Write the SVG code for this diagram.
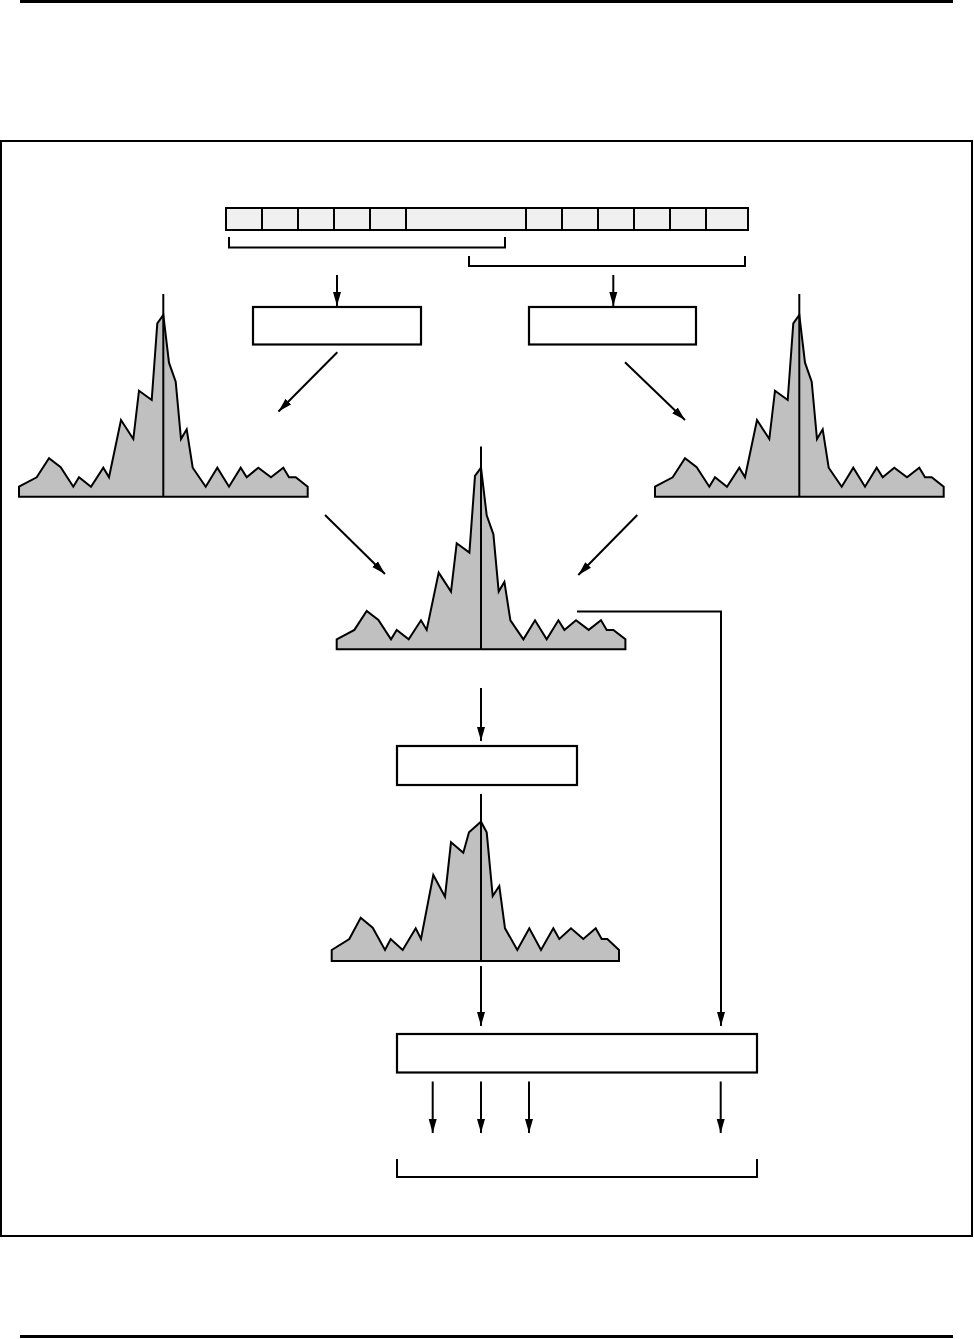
<svg xmlns="http://www.w3.org/2000/svg" xmlns:xlink="http://www.w3.org/1999/xlink" width="974" height="1339" viewBox="0 0 974 1339">
<style>
.ln{fill:none;stroke:#000;stroke-width:2}
.bx{fill:#fff;stroke:#000;stroke-width:2.2}
.cell{fill:#f0f0f0;stroke:#000;stroke-width:2}
.hist{fill:#c0c0c0;stroke:#000;stroke-width:2;stroke-linejoin:miter}
.arr{fill:none;stroke:#000;stroke-width:2;marker-end:url(#ah)}
</style>
<defs>
<marker id="ah" markerUnits="userSpaceOnUse" markerWidth="16" markerHeight="10" refX="14" refY="5" orient="auto">
<path d="M0,1 L14,5 L0,9 z" fill="#000"/>
</marker>
<g id="histA">
<polygon class="hist" points="-144.3,-10 -126.6,-19.4 -114.3,-38.4 -102.6,-29.4 -90,-10 -84.3,-19.4 -72.3,-10 -60,-29 -54.3,-19.4 -42.3,-76.7 -30,-57.7 -24.3,-106 -11.6,-96.7 -6,-173.4 0,-181.7 5.7,-134 12.4,-115 17.7,-57.7 23.4,-67.4 29.4,-29 42.4,-10 54,-29 65.7,-10 77.4,-29 83.4,-19.4 95,-29 107.7,-19.4 120,-29 125.7,-19.4 132.4,-19.4 144.4,-10 144.4,0 -144.3,0"/>
<line class="ln" x1="0" y1="-202.7" x2="0" y2="0"/>
</g>
</defs>
<rect width="974" height="1339" fill="#fff"/>
<g id="page">
<line x1="20" y1="1.5" x2="953" y2="1.5" stroke="#000" stroke-width="3"/>
<line x1="20" y1="1336.5" x2="953" y2="1336.5" stroke="#000" stroke-width="3"/>
<rect x="1" y="141" width="971" height="1095" fill="none" stroke="#000" stroke-width="2"/>
</g>
<g id="register">
<rect class="cell" x="226" y="208" width="36" height="22"/>
<rect class="cell" x="262" y="208" width="36" height="22"/>
<rect class="cell" x="298" y="208" width="36" height="22"/>
<rect class="cell" x="334" y="208" width="36" height="22"/>
<rect class="cell" x="370" y="208" width="36" height="22"/>
<rect class="cell" x="406" y="208" width="120" height="22"/>
<rect class="cell" x="526" y="208" width="36" height="22"/>
<rect class="cell" x="562" y="208" width="36" height="22"/>
<rect class="cell" x="598" y="208" width="36" height="22"/>
<rect class="cell" x="634" y="208" width="36" height="22"/>
<rect class="cell" x="670" y="208" width="36" height="22"/>
<rect class="cell" x="706" y="208" width="42" height="22"/>
</g>
<g id="bracket1"><path class="ln" d="M229,237 V247.5 H505 V237"/></g>
<g id="bracket2"><path class="ln" d="M469,256 V266 H745 V256"/></g>
<g id="boxL"><rect class="bx" x="253" y="307" width="168" height="37.5"/></g>
<g id="boxR"><rect class="bx" x="529" y="307" width="167" height="37.5"/></g>
<g id="histL"><use xlink:href="#histA" href="#histA" transform="translate(163.3,496.7)"/></g>
<g id="histR"><use xlink:href="#histA" href="#histA" transform="translate(799.3,496.7)"/></g>
<g id="histM"><use xlink:href="#histA" href="#histA" transform="translate(481,649.3)"/></g>
<g id="boxM"><rect class="bx" x="397" y="746" width="180" height="39"/></g>
<g id="histB">
<polygon class="hist" transform="translate(481,961)" points="-149.3,-11 -131.7,-22 -120.3,-43.3 -108.3,-33.3 -96,-11 -90.3,-22 -78.3,-11 -65.3,-32.7 -60,-22 -47.7,-86 -36,-64.3 -30,-118.7 -17.7,-108.3 -12,-128.7 0,-139.3 5.7,-128.7 11.7,-65 18.3,-75 24,-32.7 36.3,-11 48.3,-32.7 60,-11 72.3,-32.7 78.3,-22 90,-32.7 102.3,-22 114.7,-32.7 120.7,-22 126.3,-22 138,-11 138,0 -149.3,0"/>
<line class="ln" x1="481" y1="794" x2="481" y2="961"/>
</g>
<g id="boxBottom"><rect class="bx" x="397" y="1034" width="360" height="38.5"/></g>
<g id="bracket3"><path class="ln" d="M397,1159 V1177 H757 V1159"/></g>
<g id="connectors">
<line class="arr" x1="337" y1="275" x2="337" y2="306"/>
<line class="arr" x1="613.3" y1="275" x2="613.3" y2="306"/>
<line class="arr" x1="337.3" y1="352.3" x2="278.5" y2="411.5"/>
<line class="arr" x1="625" y1="362.3" x2="685" y2="420"/>
<line class="arr" x1="325" y1="515" x2="385" y2="574"/>
<line class="arr" x1="637.3" y1="515" x2="578.3" y2="575"/>
<path class="arr" d="M577,611.5 H721 V1026"/>
<line class="arr" x1="481" y1="688" x2="481" y2="741"/>
<line class="arr" x1="481" y1="966" x2="481" y2="1026"/>
<line class="arr" x1="432.7" y1="1081.5" x2="432.7" y2="1133"/>
<line class="arr" x1="481" y1="1081.5" x2="481" y2="1133"/>
<line class="arr" x1="529" y1="1081.5" x2="529" y2="1133"/>
<line class="arr" x1="720.7" y1="1081.5" x2="720.7" y2="1133"/>
</g>
</svg>
